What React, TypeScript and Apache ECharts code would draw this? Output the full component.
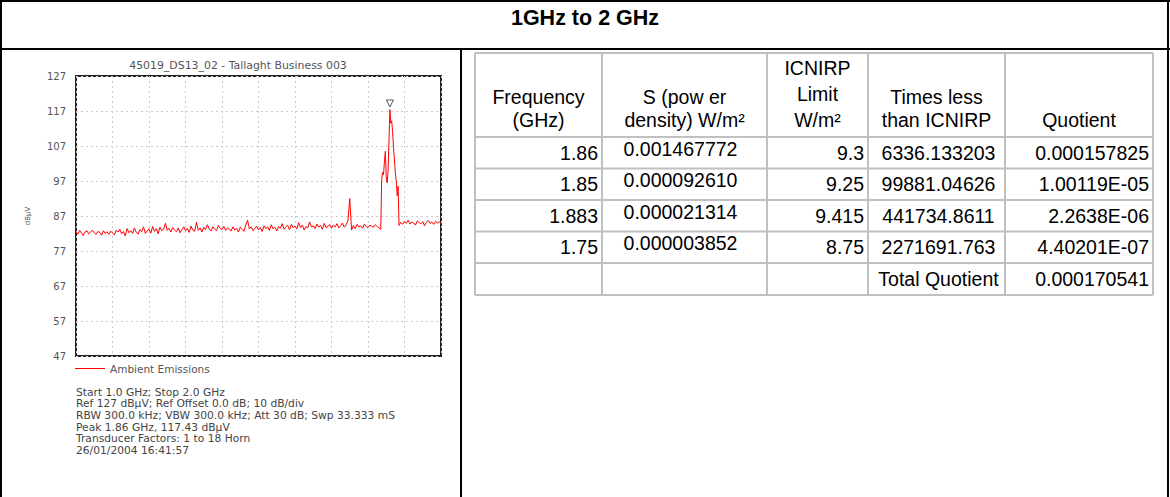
import React, { useEffect, useRef } from "react";
import * as echarts from "echarts";

// ---------- texts ----------
const sectionTitle = "1GHz to 2 GHz";
const chartTitle = "45019_DS13_02 - Tallaght Business 003";
const seriesName = "Ambient Emissions";
const yUnit = "dBµV";
const infoLines = [
  "Start 1.0 GHz; Stop 2.0 GHz",
  "Ref 127 dBµV; Ref Offset 0.0 dB; 10 dB/div",
  "RBW 300.0 kHz; VBW 300.0 kHz; Att 30 dB; Swp 33.333 mS",
  "Peak 1.86 GHz, 117.43 dBµV",
  "Transducer Factors: 1 to 18 Horn",
  "26/01/2004 16:41:57",
];

// ---------- axes ----------
const yMin = 47;
const yMax = 127;
const yStep = 10;
const xMin = 1.0;
const xMax = 2.0;
const xStep = 0.1;

// ---------- spectrum (dBµV) ----------
const sweepStartGHz = 1.0;
const sweepStepGHz = 0.005;
// 1.000 .. 1.830 GHz
const noiseBeforePeak = [
  82.6, 81.8, 82.9, 82.1, 81.4, 82.5, 82.8, 81.9, 82.4, 83.0, 82.2, 81.7, 82.6, 82.3, 81.5, 82.8, 82.0, 82.5, 81.8, 82.7,
  82.1, 81.6, 82.9, 82.4, 83.2, 81.9, 82.6, 81.3, 83.4, 82.2, 82.8, 82.0, 83.6, 82.4, 81.8, 83.1, 82.5, 83.9, 82.0, 82.7,
  83.3, 82.1, 84.0, 82.6, 83.4, 81.9, 83.8, 82.8, 83.2, 84.9, 82.9, 83.5, 82.4, 83.7, 83.0, 82.5, 83.6, 82.2, 83.1, 83.9,
  82.8, 83.4, 82.3, 84.1, 83.0, 82.6, 85.2, 82.9, 83.6, 82.4, 83.8, 83.1, 84.5, 83.3, 82.7, 83.9, 83.2, 82.8, 84.3, 83.5,
  83.1, 84.0, 82.9, 83.6, 83.3, 82.7, 83.9, 83.0, 83.5, 82.4, 83.8, 83.2, 82.6, 84.4, 85.8, 83.3, 83.9, 82.8, 83.5, 84.1,
  83.0, 83.7, 82.6, 84.2, 83.4, 83.9, 82.9, 84.5, 83.3, 83.8, 82.7, 84.0, 83.5, 84.8, 83.2, 83.9, 84.3, 83.1, 84.6, 83.6,
  84.1, 83.3, 85.1, 83.7, 84.4, 83.0, 84.0, 83.6, 85.3, 83.9, 84.2, 83.4, 84.7, 83.8, 84.3, 83.2, 84.9, 83.7, 84.0, 84.6,
  83.5, 84.4, 83.9, 84.8, 83.6, 84.2, 85.0, 83.8, 84.5, 85.6, 92.0, 83.0, 84.3, 83.4, 84.6, 83.9, 84.2, 83.5, 84.7, 84.0,
  83.7, 84.4, 84.1, 83.8, 84.5, 84.0, 83.6,
];
// carrier around 1.86 GHz
const peakFreqs = [
  1.835, 1.8375, 1.84, 1.8425, 1.845, 1.8475, 1.85, 1.8525, 1.855, 1.8575, 1.86,
  1.8625, 1.865, 1.8675, 1.87, 1.8725, 1.875, 1.8775, 1.88, 1.8825, 1.885,
];
const peakLevels = [
  83.2, 97.5, 99.5, 98.8, 102.5, 105.5, 98.2, 96.5, 99.8, 108.5, 117.43,
  113.5, 114.2, 110.8, 106.5, 103.0, 99.2, 96.8, 92.8, 95.5, 84.3,
];
// 1.890 .. 2.000 GHz
const noiseAfterStartGHz = 1.89;
const noiseAfterPeak = [
  85.2, 84.6, 85.5, 84.9, 85.8, 84.7, 85.3, 85.0, 84.4, 85.6, 85.1, 84.8, 85.4, 84.2, 85.2, 85.7, 84.9, 85.3, 84.6, 85.5,
  85.0, 85.4, 84.8,
];
const peakMarker = [1.86, 117.43];

// ---------- table ----------
const tableHeaders = [
  ["Frequency", "(GHz)"],
  ["S (pow er", "density) W/m²"],
  ["ICNIRP", "Limit", "W/m²"],
  ["Times less", "than ICNIRP"],
  ["Quotient"],
];
const frequencies = ["1.86", "1.85", "1.883", "1.75", ""];
const powerDensities = ["0.001467772", "0.000092610", "0.000021314", "0.000003852", ""];
const icnirpLimits = ["9.3", "9.25", "9.415", "8.75", ""];
const timesLess = ["6336.133203", "99881.04626", "441734.8611", "2271691.763", "Total Quotient"];
const quotients = ["0.000157825", "1.00119E-05", "2.2638E-06", "4.40201E-07", "0.000170541"];

const W = 1170;
const H = 497;
const TFONT = "'Liberation Sans', Arial, sans-serif";
const CFONT = "'DejaVu Sans', Verdana, sans-serif";

function buildSpectrum(): number[][] {
  const pts: number[][] = [];
  noiseBeforePeak.forEach((v, i) => pts.push([+(sweepStartGHz + i * sweepStepGHz).toFixed(4), v]));
  peakFreqs.forEach((f, i) => pts.push([f, peakLevels[i]]));
  noiseAfterPeak.forEach((v, i) => pts.push([+(noiseAfterStartGHz + i * sweepStepGHz).toFixed(4), v]));
  return pts;
}

function txt(x: number, y: number, text: string, o: any = {}) {
  const align = o.align || "left";
  return {
    type: "text",
    x,
    y,
    silent: true,
    style: {
      text,
      fill: o.fill || "#000",
      fontSize: o.fontSize || 19.5,
      fontFamily: o.fontFamily || TFONT,
      fontWeight: o.fontWeight || "normal",
      align,
      textAlign: align,
      verticalAlign: "middle",
      textVerticalAlign: "middle",
    },
  };
}

function ln(x1: number, y1: number, x2: number, y2: number, stroke: string, lineWidth: number) {
  return { type: "line", silent: true, shape: { x1, y1, x2, y2 }, style: { stroke, lineWidth } };
}

function buildGraphics() {
  const g: any[] = [];
  // page frame
  g.push(ln(0, 1, W, 1, "#000", 2));
  g.push(ln(1, 0, 1, H, "#000", 2));
  g.push(ln(W - 2, 0, W - 2, H, "#000", 2));
  g.push(ln(0, 49, W, 49, "#000", 2));
  g.push(ln(461, 49, 461, H, "#000", 2));
  g.push(txt(585, 18, sectionTitle, { align: "center", fontSize: 21.5, fontWeight: "bold" }));

  // table grid
  const colX = [475, 602, 767, 868, 1005, 1153];
  const rowY = [53, 137, 168.5, 200, 231.5, 263, 295];
  const grey = "#c0c0c0";
  colX.forEach((x) => g.push(ln(x, rowY[0], x, rowY[rowY.length - 1], grey, 2)));
  rowY.forEach((y) => g.push(ln(colX[0], y, colX[colX.length - 1], y, grey, 2)));

  // headers (bottom aligned)
  const headBottom = 120;
  tableHeaders.forEach((lines, c) => {
    const cx = (colX[c] + colX[c + 1]) / 2;
    const step = lines.length > 2 ? 26 : 23;
    lines.forEach((t, k) => {
      const y = headBottom - (lines.length - 1 - k) * step;
      g.push(txt(cx, y, t, { align: "center" }));
    });
  });

  // body rows
  const cols = [frequencies, powerDensities, icnirpLimits, timesLess, quotients];
  const align = ["right", "center", "right", "center", "right"];
  const lift = [0, 4, 0, 0, 0];
  for (let r = 0; r < frequencies.length; r++) {
    const cy = (rowY[r + 1] + rowY[r + 2]) / 2;
    cols.forEach((col, c) => {
      if (!col[r]) return;
      let x = colX[c + 1] - 4;
      if (align[c] === "center") x = (colX[c] + colX[c + 1]) / 2 + (c === 1 ? -4 : 2);
      g.push(txt(x, cy - lift[c], col[r], { align: align[c] }));
    });
  }

  // chart info block
  infoLines.forEach((t, i) =>
    g.push(txt(76, 392 + i * 11.7, t, { fontSize: 10.7, fontFamily: CFONT, fill: "#444" }))
  );
  return g;
}

export default function App() {
  const ref = useRef<HTMLDivElement>(null);
  useEffect(() => {
    if (!ref.current) return;
    const chart = echarts.init(ref.current, undefined, { renderer: "svg", width: W, height: H });
    const dotted = { color: "#cccccc", type: [2, 3] as any, width: 1 };
    chart.setOption({
      animation: false,
      backgroundColor: "#fff",
      title: {
        text: chartTitle,
        left: 233,
        top: 55,
        textAlign: "center",
        textStyle: { fontSize: 10.9, color: "#555", fontWeight: "normal", fontFamily: CFONT },
      },
      legend: {
        data: [seriesName],
        left: 70,
        top: 358,
        icon: "rect",
        itemWidth: 30,
        itemHeight: 1,
        textStyle: { fontSize: 10.5, color: "#555", fontFamily: CFONT },
      },
      grid: {
        left: 76,
        top: 76,
        width: 365,
        height: 280,
        show: true,
        borderColor: "#222",
        borderWidth: 2,
        containLabel: false,
      },
      xAxis: {
        type: "value",
        min: xMin,
        max: xMax,
        interval: xStep,
        axisLabel: { show: false },
        axisTick: { show: false },
        axisLine: { show: false },
        splitLine: { show: true, lineStyle: dotted },
      },
      yAxis: {
        type: "value",
        min: yMin,
        max: yMax,
        interval: yStep,
        axisLine: { show: false },
        axisTick: { show: false },
        axisLabel: { color: "#555", fontSize: 10, fontFamily: CFONT, margin: 10 },
        splitLine: { show: true, lineStyle: dotted },
        name: yUnit,
        nameLocation: "middle",
        nameGap: 45,
        nameRotate: 90,
        nameTextStyle: { fontSize: 7, color: "#555", fontFamily: CFONT },
      },
      series: [
        {
          name: seriesName,
          type: "line",
          data: buildSpectrum(),
          symbol: "none",
          color: "#ff0000",
          lineStyle: { color: "#ff0000", width: 1 },
          markPoint: {
            symbol: "triangle",
            symbolRotate: 180,
            symbolSize: 7,
            symbolOffset: [0, -6],
            label: { show: false },
            itemStyle: { color: "#fff", borderColor: "#555", borderWidth: 1 },
            data: [{ coord: peakMarker }],
          },
        },
      ],
      graphic: buildGraphics(),
    });
    return () => chart.dispose();
  }, []);
  return (
    <div
      ref={ref}
      style={{ position: "fixed", left: 0, top: 0, width: W, height: H, background: "#fff" }}
    />
  );
}
